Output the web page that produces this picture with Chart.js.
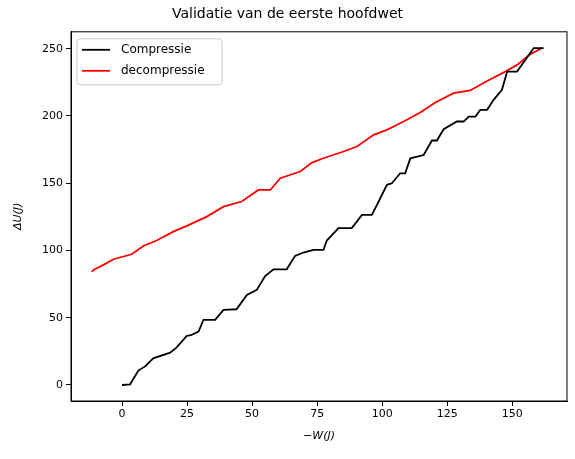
<!DOCTYPE html>
<html>
<head>
<meta charset="utf-8">
<script src="https://cdn.jsdelivr.net/npm/chart.js@4"></script>
<style>
  body { margin: 0; background: #fff; }
  #wrap { width: 575px; height: 459px; }
</style>
</head>
<body>
<div id="wrap"><canvas id="grafiek"></canvas></div>
<script>
// compressie: -W (J) en ΔU (J)
const compX = [0, 3.1, 4.5, 6.3, 9, 12, 18.5, 21, 24.9, 26.5, 29.4, 31.3, 35.8, 39, 44, 48, 51.8, 55, 58.2, 63.3, 66.5, 69.7, 73.6, 77.4, 78.7, 83.2, 88.3, 92.2, 96, 98, 101.8, 103.7, 106.9, 108.8, 110.8, 115.9, 119.1, 121, 123.6, 128.7, 131.3, 133.2, 135.8, 137.7, 140.3, 142.8, 146, 148, 151.8, 158.2, 162];
const compY = [0, 0.5, 5, 10.7, 14, 19.8, 24, 28, 36.5, 37, 39.7, 48.4, 48.4, 55.8, 56.3, 67, 70.7, 81, 86, 86, 96, 98.5, 100.4, 100.4, 107.4, 116.6, 116.6, 126.5, 126.5, 134, 148.8, 150, 157.4, 157.4, 168.5, 171, 181.8, 181.8, 190.2, 195.9, 195.9, 199.6, 199.6, 204.6, 204.6, 212, 219.5, 233, 233, 250.5, 250.5];
// decompressie
const decoX = [-11.7, -10.6, -7, -3.3, 3.7, 8.2, 13.3, 19.7, 24.9, 32.6, 39, 46, 52.4, 57, 60.8, 68.5, 73, 77.4, 85.1, 90.3, 96.7, 101.8, 108.2, 114.6, 120.4, 127.4, 133.8, 140.3, 146.7, 151.8, 157, 161.4];
const decoY = [84.3, 85.9, 89.5, 93.5, 97.2, 103.4, 107.4, 114, 118.3, 125.2, 132.6, 136.4, 145, 145, 153.7, 158.7, 165.4, 168.6, 173.6, 177.3, 186, 189.7, 195.9, 202.6, 210, 217, 219, 226, 232.4, 238, 246, 250.5];
const xTicks = [0, 25, 50, 75, 100, 125, 150];
const yTicks = [0, 50, 100, 150, 200, 250];

const punten = (xs, ys) => xs.map((x, i) => ({ x: x, y: ys[i] }));

const legendaBinnen = {
  id: 'legendaBinnen',
  afterDraw(chart) {
    const c = chart.ctx, a = chart.chartArea;
    const x = a.left + 6, y = a.top + 7;
    c.save();
    c.strokeStyle = '#cccccc'; c.lineWidth = 1;
    c.fillStyle = 'rgba(255,255,255,0.8)';
    c.beginPath(); c.roundRect(x, y, 145, 46, 3); c.fill(); c.stroke();
    c.font = '12px "DejaVu Sans"'; c.textBaseline = 'middle';
    chart.data.datasets.forEach((ds, i) => {
      const ly = y + 11 + i * 21;
      c.strokeStyle = ds.borderColor; c.lineWidth = 1.8;
      c.beginPath(); c.moveTo(x + 5, ly); c.lineTo(x + 33, ly); c.stroke();
      c.fillStyle = '#000'; c.fillText(ds.label, x + 44, ly);
    });
    c.restore();
  }
};

new Chart(document.getElementById('grafiek'), {
  type: 'scatter',
  data: {
    datasets: [
      { label: 'Compressie', data: punten(compX, compY), showLine: true, borderColor: '#000000', borderWidth: 1.8, pointRadius: 0, tension: 0 },
      { label: 'decompressie', data: punten(decoX, decoY), showLine: true, borderColor: '#ff0000', borderWidth: 1.8, pointRadius: 0, tension: 0 }
    ]
  },
  options: {
    responsive: true,
    maintainAspectRatio: false,
    animation: false,
    layout: { padding: { left: 8, right: 8, top: 0, bottom: 12 } },
    plugins: {
      legend: { display: false },
      tooltip: { enabled: false },
      title: {
        display: true, text: 'Validatie van de eerste hoofdwet', color: '#000',
        font: { family: 'DejaVu Sans', size: 14, weight: 'normal' },
        padding: { top: 6, bottom: 9 }
      }
    },
    scales: {
      x: {
        type: 'linear', min: -19.6, max: 171,
        afterBuildTicks: s => { s.ticks = xTicks.map(v => ({ value: v })); },
        afterFit: s => { s.height = 46; },
        grid: { display: true, drawOnChartArea: false, tickLength: 5, color: '#000' },
        border: { display: true, color: '#000' },
        ticks: { color: '#000', font: { family: 'DejaVu Sans', size: 11 }, padding: 2, maxRotation: 0 },
        title: { display: true, text: '−W(J)', color: '#000', font: { family: 'DejaVu Sans', size: 11, style: 'italic' }, padding: { top: 2 } }
      },
      y: {
        type: 'linear', min: -11.9, max: 262.6,
        afterBuildTicks: s => { s.ticks = yTicks.map(v => ({ value: v })); },
        afterFit: s => { s.width = 63; },
        grid: { display: true, drawOnChartArea: false, tickLength: 5, color: '#000' },
        border: { display: true, color: '#000' },
        ticks: { color: '#000', font: { family: 'DejaVu Sans', size: 11 }, padding: 3 },
        title: { display: true, text: 'ΔU(J)', color: '#000', font: { family: 'DejaVu Sans', size: 11, style: 'italic' }, padding: { bottom: 2 } }
      }
    }
  },
  plugins: [legendaBinnen, {
    id: 'rand',
    afterDraw(chart) {
      const c = chart.ctx, a = chart.chartArea;
      c.save(); c.strokeStyle = '#000'; c.lineWidth = 1;
      c.strokeRect(a.left, a.top, a.right - a.left, a.bottom - a.top);
      c.restore();
    }
  }]
});
</script>
</body>
</html>
